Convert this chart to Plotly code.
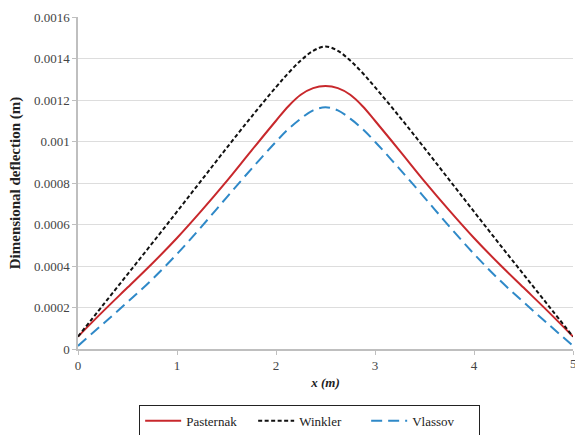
import plotly.graph_objects as go

# x positions (m), left half; right half mirrored (curves are symmetric about x = 2.5)
x_half = [0, 0.25, 0.5, 0.75, 1.0, 1.25, 1.5, 1.75, 2.0, 2.125, 2.25, 2.375, 2.5]
pasternak_half = [0.00006, 0.00018, 0.000296, 0.000412, 0.000535, 0.000668, 0.000808,
                  0.000955, 0.00110, 0.00117, 0.001225, 0.001257, 0.001267]
winkler_half = [0.00006, 0.00021, 0.00036, 0.00051, 0.000662, 0.000815, 0.000968,
                0.001118, 0.001262, 0.00133, 0.00139, 0.001437, 0.001458]
vlassov_half = [0.000015, 0.00012, 0.000226, 0.000336, 0.000458, 0.000591, 0.00073,
                0.000867, 0.000999, 0.00106, 0.00111, 0.00115, 0.001165]

x_vals = x_half + [5 - v for v in reversed(x_half[:-1])]
pasternak = pasternak_half + list(reversed(pasternak_half[:-1]))
winkler = winkler_half + list(reversed(winkler_half[:-1]))
vlassov = vlassov_half + list(reversed(vlassov_half[:-1]))

y_tick_vals = [0, 0.0002, 0.0004, 0.0006, 0.0008, 0.001, 0.0012, 0.0014, 0.0016]
y_tick_text = ["0", "0.0002", "0.0004", "0.0006", "0.0008", "0.001", "0.0012", "0.0014", "0.0016"]
x_tick_vals = [0, 1, 2, 3, 4, 5]

serif = "Liberation Serif, Times New Roman, serif"

fig = go.Figure()
fig.add_trace(go.Scatter(x=x_vals, y=pasternak, mode="lines", name="Pasternak", hoverinfo="skip",
                         line=dict(color="#C8282C", width=2, shape="spline", smoothing=1)))
fig.add_trace(go.Scatter(x=x_vals, y=winkler, mode="lines", name="Winkler", hoverinfo="skip",
                         line=dict(color="#111111", width=2, dash="4px,2.5px", shape="spline", smoothing=1)))
fig.add_trace(go.Scatter(x=x_vals, y=vlassov, mode="lines", name="Vlassov", hoverinfo="skip",
                         line=dict(color="#2F89C8", width=2, dash="11px,6px", shape="spline", smoothing=1)))

# last x tick label sits on the window edge (half cut, as in the reference)
fig.add_annotation(x=x_tick_vals[-1], y=0, xref="x", yref="paper", text=str(x_tick_vals[-1]),
                   showarrow=False, xanchor="center", yanchor="top", yshift=-5,
                   font=dict(family=serif, size=13, color="#444444"))

fig.update_layout(
    width=575, height=435,
    margin=dict(l=78, r=2, t=17, b=86, autoexpand=False),
    paper_bgcolor="white", plot_bgcolor="white",
    font=dict(family=serif, size=13, color="#333333"),
    showlegend=True,
    hovermode=False,
    legend=dict(orientation="h", x=0.468, xanchor="center", y=-0.168, yanchor="top",
                bordercolor="#222222", borderwidth=1, bgcolor="white",
                font=dict(family=serif, size=13, color="#222222"),
                itemwidth=36, entrywidth=62, entrywidthmode="pixels", tracegroupgap=0),
)
fig.update_xaxes(
    range=[0, 5], tickvals=x_tick_vals, showgrid=False, zeroline=False, automargin=False,
    showline=True, linecolor="#BFBFBF", linewidth=1.5,
    ticks="outside", ticklen=4, tickcolor="#BFBFBF",
    tickfont=dict(family=serif, size=13, color="#444444"),
    title=dict(text="<b><i>x (m)</i></b>", font=dict(family=serif, size=13, color="#222222"), standoff=6),
)
fig.update_yaxes(
    range=[0, 0.0016], tickvals=y_tick_vals, ticktext=y_tick_text, automargin=False,
    showgrid=True, gridcolor="#DDDDDD", gridwidth=1, zeroline=False,
    showline=True, linecolor="#BFBFBF", linewidth=1.5,
    ticks="outside", ticklen=4, tickcolor="#BFBFBF",
    tickfont=dict(family=serif, size=13, color="#444444"),
    title=dict(text="<b>Dimensional deflection (m)</b>", font=dict(family=serif, size=15, color="#222222"), standoff=10),
)

fig.write_html("out.html", config={"displayModeBar": False},
               post_script="document.body.style.margin='0';document.body.style.overflow='hidden';")
